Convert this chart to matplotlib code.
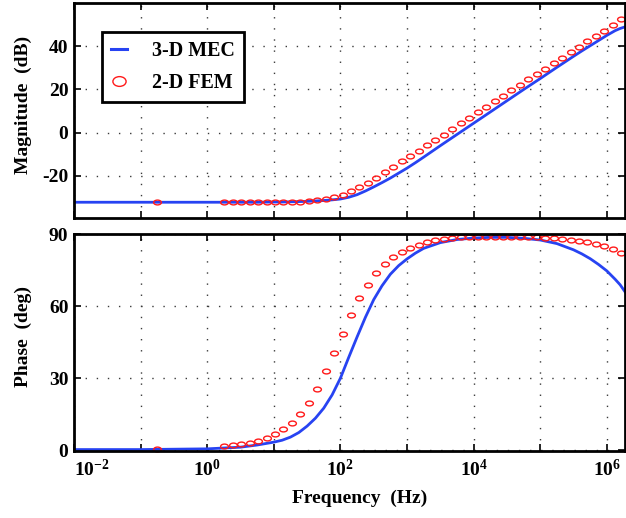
import matplotlib
matplotlib.use("Agg")
import numpy as np
import matplotlib.pyplot as plt
from matplotlib.path import Path
from matplotlib.transforms import Affine2D
from matplotlib.lines import Line2D
from matplotlib.ticker import FixedLocator, FixedFormatter, NullLocator

plt.rcParams["font.family"] = ["Liberation Serif", "DejaVu Serif"]
plt.rcParams["font.weight"] = "bold"
plt.rcParams["mathtext.fontset"] = "custom"
plt.rcParams["mathtext.rm"] = "Liberation Serif:bold"
plt.rcParams["mathtext.it"] = "Liberation Serif:bold"
plt.rcParams["mathtext.bf"] = "Liberation Serif:bold"
plt.rcParams["axes.unicode_minus"] = False

# ---- 3-D MEC model (solid line): log10 frequency, magnitude, phase ----
mec_log_f = [-2.0, -1.0, 0.0, 0.5, 0.75, 1.0, 1.125, 1.25, 1.375, 1.5, 1.625,
             1.75, 1.875, 2.0, 2.125, 2.25, 2.375, 2.5, 2.625, 2.75, 2.875,
             3.0, 3.125, 3.25, 3.5, 3.75, 4.0, 4.25, 4.5, 4.75, 5.0, 5.25,
             5.5, 5.625, 5.75, 5.875, 6.0, 6.125, 6.2, 6.28]
mec_mag_db = [-32.3, -32.3, -32.3, -32.3, -32.3, -32.2, -32.2, -32.1, -32.0,
              -31.9, -31.7, -31.5, -31.2, -30.8, -30.0, -28.8, -27.1, -25.2,
              -23.2, -21.1, -18.8, -16.5, -14.0, -11.4, -6.1, -0.9, 4.3, 9.5,
              14.7, 19.9, 25.0, 30.2, 35.3, 37.8, 40.2, 42.6, 45.0, 47.2,
              48.2, 49.0]
mec_phase_deg = [0.2, 0.2, 0.5, 1.2, 2.1, 3.3, 4.1, 5.4, 7.3, 10.0, 13.3,
                 17.5, 23.0, 30.0, 38.7, 47.2, 55.4, 62.8, 68.6, 73.4, 77.0,
                 79.8, 82.2, 84.2, 86.6, 87.9, 88.5, 88.8, 88.8, 88.4, 87.7,
                 86.2, 83.6, 81.9, 79.9, 77.5, 74.8, 71.3, 69.0, 65.8]

# ---- 2-D FEM results (markers) ----
fem_log_f = [-0.754, 0.257, 0.384, 0.511, 0.637, 0.764, 0.891, 1.018, 1.145,
             1.271, 1.398, 1.525, 1.652, 1.779, 1.905, 2.032, 2.159, 2.286,
             2.413, 2.539, 2.666, 2.793, 2.920, 3.047, 3.173, 3.300, 3.427,
             3.554, 3.681, 3.807, 3.934, 4.061, 4.188, 4.315, 4.441, 4.568,
             4.695, 4.822, 4.949, 5.075, 5.202, 5.329, 5.456, 5.583, 5.709,
             5.836, 5.963, 6.090, 6.217]
fem_mag_db = [-32.3, -32.3, -32.3, -32.3, -32.3, -32.3, -32.3, -32.2, -32.2,
              -32.1, -32.0, -31.8, -31.3, -30.7, -30.1, -28.8, -27.2, -25.2,
              -23.2, -21.1, -18.5, -16.0, -13.4, -10.8, -8.5, -5.9, -3.4,
              -1.0, 1.7, 4.3, 6.9, 9.4, 12.0, 14.5, 17.0, 19.6, 22.1, 24.6,
              27.1, 29.6, 32.1, 34.6, 37.1, 39.7, 42.2, 44.7, 47.2, 49.9, 52.6]
fem_phase_deg = [0.5, 1.7, 2.1, 2.5, 3.0, 3.9, 5.2, 6.6, 8.7, 11.4, 15.1,
                 19.8, 25.5, 32.8, 40.5, 48.6, 56.5, 63.5, 69.1, 73.8, 77.6,
                 80.5, 82.7, 84.2, 85.5, 86.7, 87.5, 88.1, 88.5, 88.8, 88.9,
                 89.0, 89.0, 89.0, 89.0, 89.0, 88.9, 88.9, 88.8, 88.7, 88.4,
                 88.1, 87.7, 87.3, 86.7, 86.2, 85.3, 84.1, 82.3]

decade_exponents = [-2, -1, 0, 1, 2, 3, 4, 5, 6]
x_tick_labels = [r"$10^{-2}$", "", r"$10^{0}$", "", r"$10^{2}$", "",
                 r"$10^{4}$", "", r"$10^{6}$"]
mag_ticks = [-20, 0, 20, 40]
phase_ticks = [0, 30, 60, 90]

mec_f = np.power(10.0, mec_log_f)
fem_f = np.power(10.0, fem_log_f)

LINE_BLUE = "#2743f2"
MARK_RED = "#ff1a1a"
FS = 14

# flattened open-circle marker
ellipse = Path.unit_circle().transformed(Affine2D().scale(1.0, 0.62))
ellipse_legend = Path.unit_circle().transformed(Affine2D().scale(1.0, 0.74))

fig = plt.figure(figsize=(6.26, 5.18), dpi=100)
ax1 = fig.add_axes([74 / 626, 1 - 218 / 518, 551 / 626, 215 / 518])
ax2 = fig.add_axes([74 / 626, 1 - 451 / 518, 551 / 626, 217 / 518])


def style(ax):
    ax.set_xscale("log")
    ax.set_xlim(1e-2, 10 ** 6.273)
    ax.xaxis.set_major_locator(FixedLocator([10.0 ** e for e in decade_exponents]))
    ax.xaxis.set_minor_locator(NullLocator())
    ax.grid(True, which="major", linestyle=(0, (1, 7)), color="#3a3a3a",
            linewidth=1.0)
    ax.tick_params(direction="in", length=5, width=1.2, top=True, right=True,
                   labelsize=FS, pad=4)
    for s in ax.spines.values():
        s.set_linewidth(2.0)
        s.set_zorder(5)


# magnitude
ax1.plot(mec_f, mec_mag_db, color=LINE_BLUE, lw=2.0, zorder=3)
ax1.plot(fem_f, fem_mag_db, linestyle="none", marker=ellipse, markersize=5.6,
         markerfacecolor="none", markeredgecolor=MARK_RED, markeredgewidth=1.0,
         zorder=4)
style(ax1)
ax1.set_ylim(-39.6, 60)
ax1.set_yticks(mag_ticks)
ax1.tick_params(labelbottom=False)
ax1.set_ylabel("Magnitude  (dB)", fontsize=FS, fontweight="bold")
ax1.yaxis.set_label_coords(-0.076, 0.528)

handles = [
    Line2D([], [], color=LINE_BLUE, lw=2.2),
    Line2D([], [], linestyle="none", marker=ellipse_legend, markersize=9.5,
           markerfacecolor="none", markeredgecolor=MARK_RED,
           markeredgewidth=1.0),
]
leg = ax1.legend(handles, ["3-D MEC", "2-D FEM"], loc="upper left",
                 bbox_to_anchor=(0.0507, 0.865), borderaxespad=0.0,
                 fontsize=14.4, frameon=True, fancybox=False, framealpha=1.0,
                 edgecolor="black", handlelength=0.8, handletextpad=1.25,
                 borderpad=0.45, labelspacing=0.62)
leg.get_frame().set_linewidth(2.0)
leg.set_zorder(6)

# phase
ax2.plot(mec_f, mec_phase_deg, color=LINE_BLUE, lw=2.0, zorder=3)
ax2.plot(fem_f, fem_phase_deg, linestyle="none", marker=ellipse, markersize=5.6,
         markerfacecolor="none", markeredgecolor=MARK_RED, markeredgewidth=1.0,
         zorder=4, clip_on=False)
style(ax2)
ax2.set_ylim(-0.4, 90.2)
ax2.set_yticks(phase_ticks)
ax2.xaxis.set_major_formatter(FixedFormatter(x_tick_labels))
ax2.tick_params(axis="x", pad=6)
ax2.xaxis.get_major_ticks()[0].label1.set_horizontalalignment("left")
ax2.set_ylabel("Phase  (deg)", fontsize=FS, fontweight="bold")
ax2.yaxis.set_label_coords(-0.076, 0.528)
ax2.set_xlabel("Frequency  (Hz)", fontsize=FS, fontweight="bold")
ax2.xaxis.set_label_coords(0.519, -0.18)

fig.savefig("out.png", dpi=100)
